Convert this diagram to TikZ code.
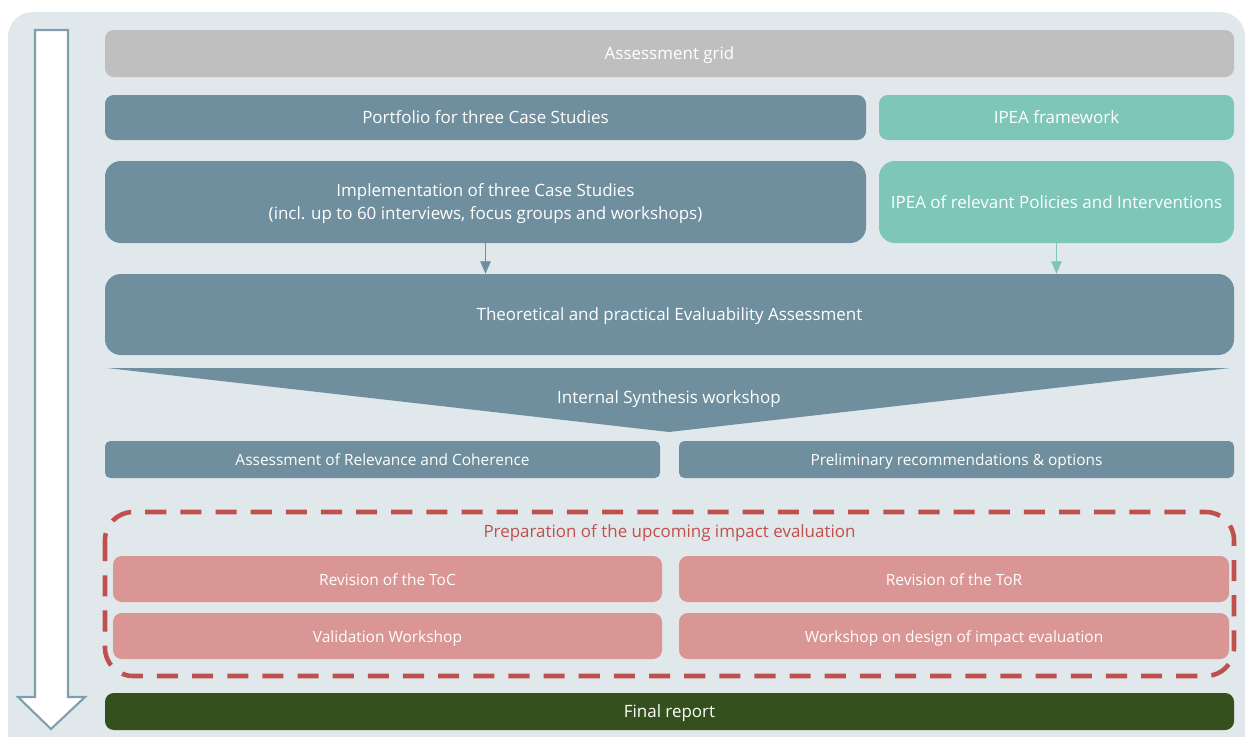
\documentclass[tikz,border=0pt]{standalone}
\usepackage{fontspec}
\setmainfont{Open Sans}
\usepackage{tikz}
\usetikzlibrary{calc,arrows.meta}
\definecolor{bgcol}{HTML}{E1E8EC}
\definecolor{gridcol}{HTML}{BFBFBF}
\definecolor{slate}{HTML}{6F8F9E}
\definecolor{teal}{HTML}{7DC6B8}
\definecolor{rose}{HTML}{D99694}
\definecolor{redline}{HTML}{C0504D}
\definecolor{darkgreen}{HTML}{34501C}
\definecolor{arrowline}{HTML}{7F9FAF}
\tikzset{
  box/.style={rectangle, rounded corners=5pt, text=white, align=center, inner sep=0pt, font=\fontsize{9.65}{13.2}\selectfont},
  linebox/.style={box, text height=9pt, text depth=1.8pt},
  smallbox/.style={box, font=\fontsize{8.8}{11}\selectfont, text height=8.4pt, text depth=1.2pt},
}

\begin{document}
\begin{tikzpicture}
\useasboundingbox (0,0) rectangle (24.94,-14.72);
% background
\path[fill=bgcol, rounded corners=14pt] (0.16,-0.24) rectangle (24.90,-15.2);
% time arrow
\path[draw=arrowline, fill=white, line width=1.2pt]
  (0.70,-0.60) -- (1.36,-0.60) -- (1.36,-13.94) -- (1.70,-13.94)
  -- (1.02,-14.58) -- (0.36,-13.94) -- (0.70,-13.94) -- cycle;

\node[linebox, fill=gridcol, minimum width=22.58cm, minimum height=0.94cm] (grid) at (13.39,-1.07) {Assessment grid};
\node[linebox, fill=slate, minimum width=15.22cm, minimum height=0.90cm] (portfolio) at (9.71,-2.35) {Portfolio for three Case Studies};
\node[linebox, fill=teal, minimum width=7.10cm, minimum height=0.90cm] (ipeafw) at (21.13,-2.35) {IPEA framework};
\node[box, fill=slate, rounded corners=9pt, minimum width=15.22cm, minimum height=1.64cm] (impl) at (9.71,-4.04) {\rule{0pt}{9pt}Implementation of three Case Studies\\(incl. up to 60 interviews, focus groups and workshops)};
\node[linebox, fill=teal, rounded corners=9pt, minimum width=7.10cm, minimum height=1.64cm] (ipearel) at (21.13,-4.04) {IPEA of relevant Policies and Interventions};
\node[linebox, fill=slate, rounded corners=9pt, minimum width=22.58cm, minimum height=1.62cm] (theo) at (13.39,-6.29) {Theoretical and practical Evaluability Assessment};

\draw[slate, -{Triangle[width=6pt,length=7pt]}] (impl.south) -- (impl.south |- theo.north);
\draw[teal, -{Triangle[width=6pt,length=7pt]}] (ipearel.south) -- (ipearel.south |- theo.north);

% synthesis funnel
\path[fill=slate] (2.14,-7.36) -- (24.60,-7.36) -- (13.38,-8.64) -- cycle;
\node[linebox] (synth) at (13.38,-7.94) {Internal Synthesis workshop};

\node[smallbox, rounded corners=3pt, fill=slate, minimum width=11.10cm, minimum height=0.74cm] (relev) at (7.65,-9.19) {Assessment of Relevance and Coherence};
\node[smallbox, rounded corners=3pt, fill=slate, minimum width=11.10cm, minimum height=0.74cm] (prelim) at (19.13,-9.19) {Preliminary recommendations \& options};

% preparation frame
\draw[redline, line width=2.6pt, dash pattern=on 12pt off 8pt, rounded corners=16pt] (2.10,-10.24) rectangle (24.68,-13.52);
\node[linebox, text=redline] (prep) at (13.39,-10.62) {Preparation of the upcoming impact evaluation};

\node[smallbox, fill=rose, minimum width=10.98cm, minimum height=0.92cm] (toc) at (7.75,-11.58) {Revision of the ToC};
\node[smallbox, fill=rose, minimum width=11.00cm, minimum height=0.92cm] (tor) at (19.08,-11.58) {Revision of the ToR};
\node[smallbox, fill=rose, minimum width=10.98cm, minimum height=0.92cm] (valid) at (7.75,-12.72) {Validation Workshop};
\node[smallbox, fill=rose, minimum width=11.00cm, minimum height=0.92cm] (design) at (19.08,-12.72) {Workshop on design of impact evaluation};

\node[linebox, fill=darkgreen, minimum width=22.58cm, minimum height=0.74cm] (final) at (13.39,-14.23) {Final report};
\end{tikzpicture}
\end{document}
